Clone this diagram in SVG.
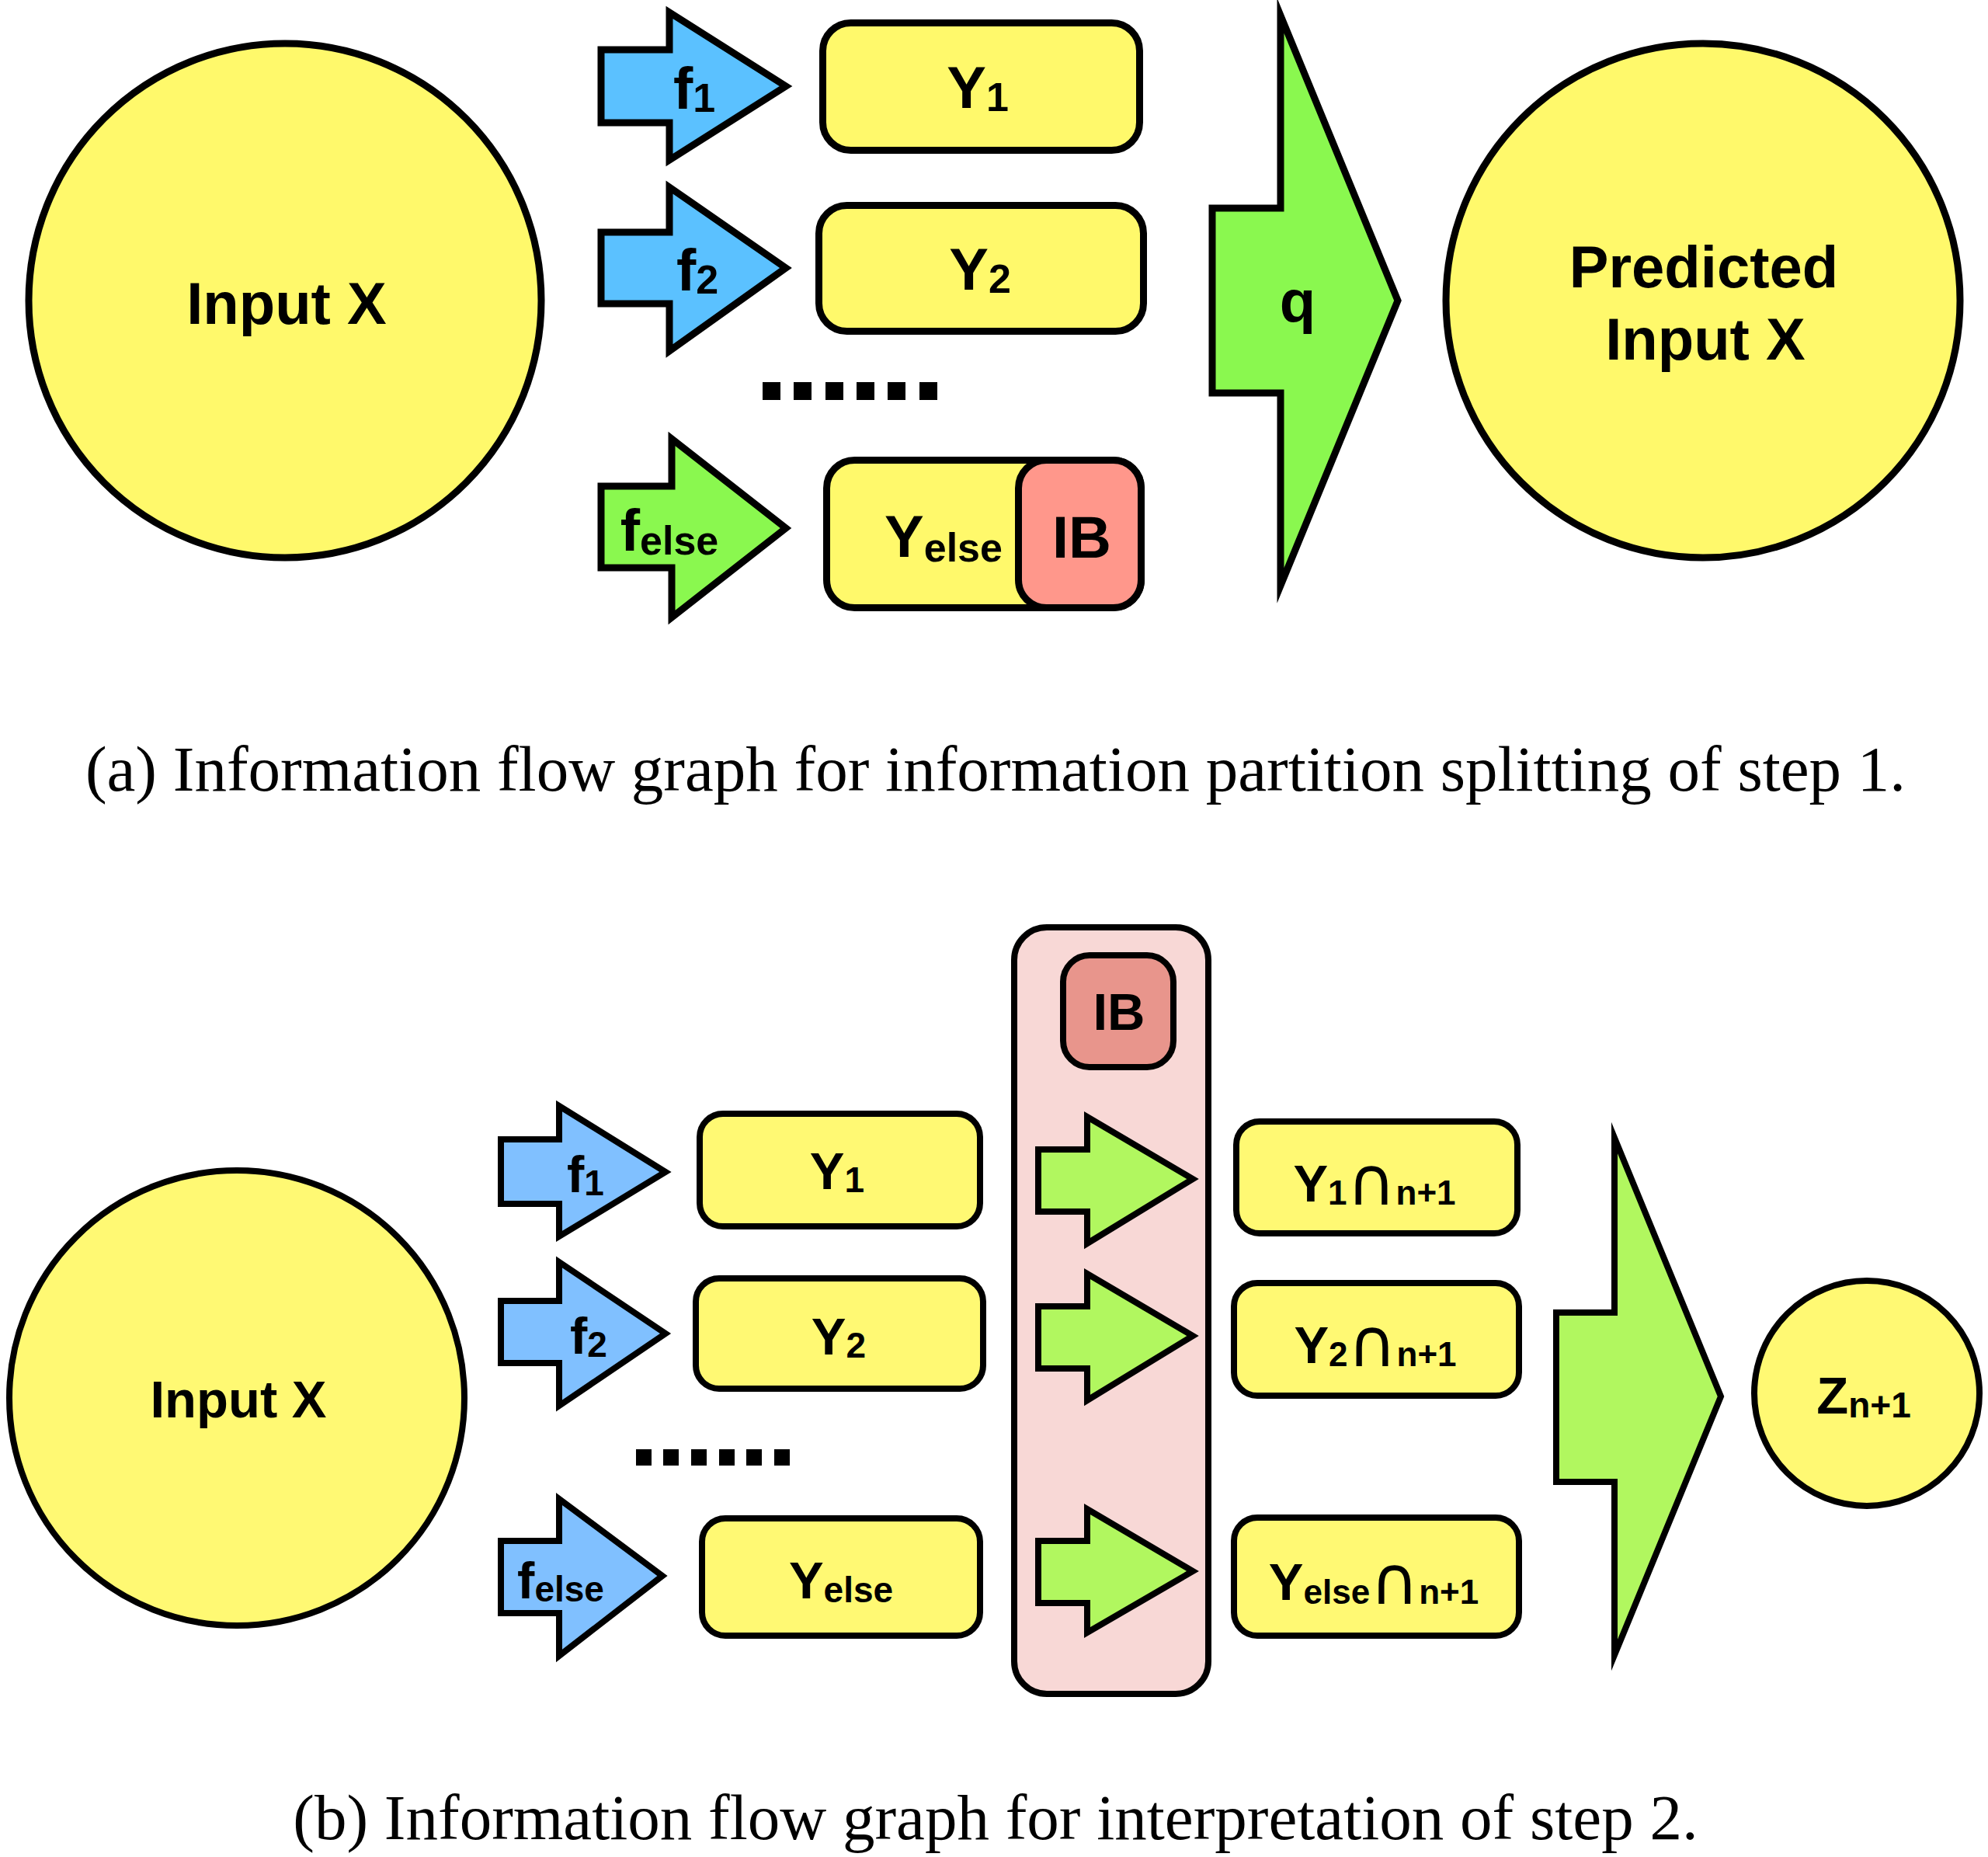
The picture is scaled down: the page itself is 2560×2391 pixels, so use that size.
<svg xmlns="http://www.w3.org/2000/svg" width="2560" height="2391" viewBox="0 0 2560 2391">
<style>
.s9{stroke:#000;stroke-width:9;stroke-linejoin:miter;stroke-miterlimit:10}
.s8{stroke:#000;stroke-width:8;stroke-linejoin:miter;stroke-miterlimit:10}
.yel{fill:#FFF96B}
.yel2{fill:#FFF973}
.blue{fill:#5BC1FF}
.blue2{fill:#80C0FF}
.green{fill:#8AF84F}
.green2{fill:#B1F75F}
.ib{fill:#FF978B}
.ib2{fill:#E8958C}
.pink{fill:#F8D8D6}
.lb{font-family:"Liberation Sans",Arial,Helvetica,sans-serif;font-weight:bold;fill:#000;text-anchor:middle}
.cap{font-family:"Liberation Serif","Times New Roman",serif;fill:#000;text-anchor:middle}
.cup{font-family:"DejaVu Sans",sans-serif;font-weight:normal}
</style>
<rect x="0" y="0" width="2560" height="2391" fill="#fff"/>

<!-- ============ (a) ============ -->
<g id="a-inputx">
<ellipse class="yel s9" cx="367" cy="387" rx="330" ry="331"/>
<text class="lb" x="369" y="417" font-size="76">Input X</text>
</g>
<g id="a-connectors">
<g id="a-f1">
<path class="blue s9" d="M774,64 H862 V16 L1012,111 L862,206 V158 H774 Z"/>
<text class="lb" x="894" y="140" font-size="76">f<tspan font-size="52" dy="4">1</tspan></text>
</g>
<g id="a-f2">
<path class="blue s9" d="M774,299 H862 V241 L1012,345 L862,452 V391 H774 Z"/>
<text class="lb" x="898" y="374" font-size="76">f<tspan font-size="52" dy="4">2</tspan></text>
</g>
<g id="a-felse">
<path class="green s9" d="M774,626 H865 V565 L1012,680 L865,795 V731 H774 Z"/>
<text class="lb" x="862" y="709" font-size="76">f<tspan font-size="52" dy="5">else</tspan></text>
</g>
<g id="a-q">
<path class="green s9" d="M1561,268 H1649 V20 L1800,387 L1649,754 V506 H1561 Z"/>
<text class="lb" x="1671" y="414" font-size="76">q</text>
</g>
</g>
<g id="a-dots">
<rect x="982" y="492" width="23" height="23"/>
<rect x="1022" y="492" width="23" height="23"/>
<rect x="1063" y="492" width="23" height="23"/>
<rect x="1103" y="492" width="23" height="23"/>
<rect x="1143" y="492" width="23" height="23"/>
<rect x="1184" y="492" width="23" height="23"/>
</g>
<g id="a-y1">
<rect class="yel s9" x="1059.5" y="29.5" width="408" height="164" rx="36"/>
<text class="lb" x="1259" y="139" font-size="76">Y<tspan font-size="52" dy="4">1</tspan></text>
</g>
<g id="a-y2">
<rect class="yel s9" x="1054.5" y="264.5" width="418" height="162" rx="36"/>
<text class="lb" x="1262" y="373" font-size="76">Y<tspan font-size="52" dy="4">2</tspan></text>
</g>
<g id="a-yelse">
<rect class="yel s9" x="1064.5" y="592.5" width="405" height="190" rx="36"/>
<text class="lb" x="1215" y="717" font-size="76">Y<tspan font-size="52" dy="6">else</tspan></text>
</g>
<g id="a-ib">
<rect class="ib s9" x="1311.5" y="592.5" width="158" height="190" rx="36"/>
<text class="lb" x="1393" y="718" font-size="76">IB</text>
</g>
<g id="a-predicted">
<ellipse class="yel s9" cx="2193" cy="387" rx="331" ry="331"/>
<text class="lb" x="2194" y="370" font-size="76">Predicted</text>
<text class="lb" x="2196" y="463" font-size="76">Input X</text>
</g>
<text class="cap" x="1282" y="1018" font-size="83">(a) Information flow graph for information partition splitting of step 1.</text>

<!-- ============ (b) ============ -->
<g id="b-container">
<rect class="pink s8" x="1306" y="1194" width="250" height="987" rx="42"/>
</g>
<g id="b-ib">
<rect class="ib2 s8" x="1369" y="1230" width="142" height="144" rx="34"/>
<text class="lb" x="1441" y="1326" font-size="67">IB</text>
</g>
<g id="b-inputx">
<circle class="yel2 s8" cx="305" cy="1800" r="293"/>
<text class="lb" x="307" y="1825" font-size="67">Input X</text>
</g>
<g id="b-connectors">
<g id="b-f1">
<path class="blue2 s8" d="M645,1467 H720 V1424 L857,1509 L720,1592 V1550 H645 Z"/>
<text class="lb" x="754" y="1535" font-size="67">f<tspan font-size="46" dy="4">1</tspan></text>
</g>
<g id="b-f2">
<path class="blue2 s8" d="M645,1675 H720 V1625 L857,1717 L720,1810 V1755 H645 Z"/>
<text class="lb" x="758" y="1743" font-size="67">f<tspan font-size="46" dy="4">2</tspan></text>
</g>
<g id="b-felse">
<path class="blue2 s8" d="M645,1984 H720 V1930 L853,2029 L720,2132 V2077 H645 Z"/>
<text class="lb" x="722" y="2058" font-size="67">f<tspan font-size="46" dy="4">else</tspan></text>
</g>
<g id="b-g1">
<path class="green2 s8" d="M1337,1480 H1400 V1438 L1536,1518 L1400,1601 V1560 H1337 Z"/>
</g>
<g id="b-g2">
<path class="green2 s8" d="M1337,1682 H1400 V1640 L1536,1720 L1400,1803 V1762 H1337 Z"/>
</g>
<g id="b-g3">
<path class="green2 s8" d="M1337,1984 H1400 V1943 L1536,2023 L1400,2102 V2064 H1337 Z"/>
</g>
<g id="b-big">
<path class="green2 s8" d="M2004,1690 H2079 V1465 L2216,1798 L2079,2131 V1908 H2004 Z"/>
</g>
</g>
<g id="b-dots">
<rect x="819" y="1866" width="20" height="21"/>
<rect x="854" y="1866" width="20" height="21"/>
<rect x="890" y="1866" width="20" height="21"/>
<rect x="926" y="1866" width="20" height="21"/>
<rect x="961" y="1866" width="20" height="21"/>
<rect x="997" y="1866" width="20" height="21"/>
</g>
<g id="b-y1">
<rect class="yel2 s8" x="901" y="1434" width="361" height="145" rx="30"/>
<text class="lb" x="1078" y="1531" font-size="67">Y<tspan font-size="46" dy="4">1</tspan></text>
</g>
<g id="b-y2">
<rect class="yel2 s8" x="896" y="1646" width="370" height="142" rx="30"/>
<text class="lb" x="1080" y="1744" font-size="67">Y<tspan font-size="46" dy="4">2</tspan></text>
</g>
<g id="b-yelse">
<rect class="yel2 s8" x="904" y="1955" width="358" height="151" rx="30"/>
<text class="lb" x="1083" y="2058" font-size="67">Y<tspan font-size="46" dy="5">else</tspan></text>
</g>
<g id="b-y1n">
<rect class="yel2 s8" x="1592" y="1444" width="362" height="144" rx="30"/>
<text class="lb" x="1770" y="1547" font-size="67">Y<tspan font-size="44" dy="4">1</tspan><tspan class="cup" font-size="86">∩</tspan><tspan font-size="44">n+1</tspan></text>
</g>
<g id="b-y2n">
<rect class="yel2 s8" x="1589" y="1652" width="367" height="145" rx="30"/>
<text class="lb" x="1771" y="1755" font-size="67">Y<tspan font-size="44" dy="4">2</tspan><tspan class="cup" font-size="86">∩</tspan><tspan font-size="44">n+1</tspan></text>
</g>
<g id="b-yelsen">
<rect class="yel2 s8" x="1589" y="1954" width="367" height="152" rx="30"/>
<text class="lb" x="1769" y="2060" font-size="67">Y<tspan font-size="44" dy="5">else</tspan><tspan class="cup" font-size="86">∩</tspan><tspan font-size="44">n+1</tspan></text>
</g>
<g id="b-z">
<circle class="yel2 s8" cx="2404" cy="1794" r="145"/>
<text class="lb" x="2400" y="1820" font-size="67">Z<tspan font-size="46" dy="5">n+1</tspan></text>
</g>
<text class="cap" x="1282" y="2368" font-size="83">(b) Information flow graph for interpretation of step 2.</text>
</svg>
